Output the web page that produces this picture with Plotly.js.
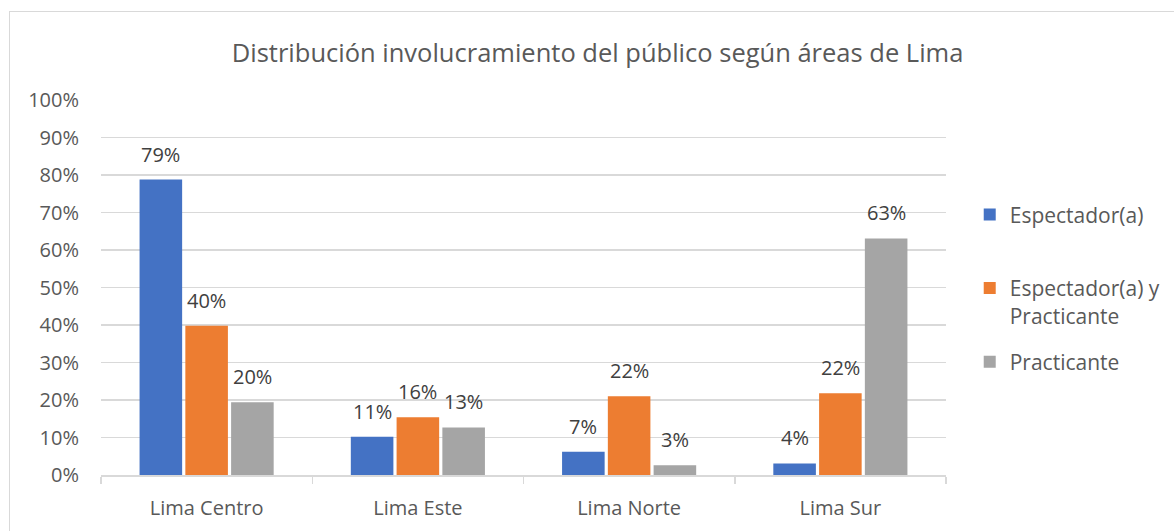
<!DOCTYPE html>
<html>
<head>
<meta charset="utf-8">
<script src="https://cdn.plot.ly/plotly-3.0.1.min.js"></script>
<style>
  html, body { margin: 0; padding: 0; background: #fff; }
  #wrap { position: relative; width: 1174px; height: 531px; overflow: hidden; }
  #chart { position: absolute; left: 0; top: 0; width: 1174px; height: 531px; }
  #frame { position: absolute; left: 9px; top: 11px; width: 1180px; height: 540px;
           border: 1.5px solid #d9d9d9; box-sizing: border-box; pointer-events: none; }
</style>
</head>
<body>
<div id="wrap"><div id="chart"></div><div id="frame"></div></div>
<script>
// ---- data ----
const categories = ["Lima Centro", "Lima Este", "Lima Norte", "Lima Sur"];
const seriesNames = ["Espectador(a)", "Espectador(a) y<br>Practicante", "Practicante"];
const espectador = [0.788, 0.102, 0.062, 0.031];
const espectadorPracticante = [0.398, 0.154, 0.210, 0.218];
const practicante = [0.194, 0.127, 0.026, 0.631];
const labelsEspectador = ["79%", "11%", "7%", "4%"];
const labelsEspectadorPracticante = ["40%", "16%", "22%", "22%"];
const labelsPracticante = ["20%", "13%", "3%", "63%"];
const yTickVals = [0, 0.1, 0.2, 0.3, 0.4, 0.5, 0.6, 0.7, 0.8, 0.9, 1.0];

// ---- style ----
const colors = ["#4472C4", "#ED7D31", "#A5A5A5"];
const textColor = "#595959";
const fontFam = "'Open Sans', Lato, sans-serif";
const W = 1174, H = 531;
const margin = {l: 101, r: 228, t: 100, b: 56, pad: 0};
const bargap = 0.35, bargroupgap = 0.07;

const values = [espectador, espectadorPracticante, practicante];
const labels = [labelsEspectador, labelsEspectadorPracticante, labelsPracticante];
const legendNames = [seriesNames[0] + "<br> ", seriesNames[1], seriesNames[2]];

const traces = values.map((v, i) => ({
  type: "bar",
  x: categories,
  y: v,
  name: legendNames[i],
  legendgroup: "g" + i,
  marker: {color: colors[i], line: {width: 0}},
  hoverinfo: "skip"
}));

// label annotations, positioned via the axis scales plus a per-series shift
const plotW = W - margin.l - margin.r;
const catPx = plotW / categories.length;
const slotPx = catPx * (1 - bargap) / 3;
const annotations = [];
values.forEach((v, s) => {
  v.forEach((val, c) => {
    annotations.push({
      x: categories[c], y: val, xref: "x", yref: "y",
      text: labels[s][c], showarrow: false,
      xanchor: "center", yanchor: "bottom",
      xshift: (s - 1) * slotPx, yshift: 10,
      font: {family: fontFam, size: 20, color: "#404040"}
    });
  });
});

const layout = {
  width: W, height: H,
  margin: margin,
  paper_bgcolor: "#fff", plot_bgcolor: "#fff",
  barmode: "group", bargap: bargap, bargroupgap: bargroupgap,
  font: {family: fontFam, color: textColor, size: 20},
  title: {
    text: "Distribución involucramiento del público según áreas de Lima",
    font: {family: fontFam, size: 25.5, color: textColor},
    x: 0.509, xanchor: "center", xref: "container", y: 0.9, yref: "container", yanchor: "middle",
    automargin: false
  },
  xaxis: {
    type: "category",
    showgrid: false, zeroline: false,
    showline: true, linecolor: "#d9d9d9", linewidth: 1.5,
    ticks: "outside", tickson: "boundaries", ticklen: 7, tickcolor: "#d9d9d9", tickwidth: 1.5,
    ticklabelstandoff: 14,
    tickfont: {family: fontFam, size: 20, color: textColor},
    fixedrange: true, automargin: false
  },
  yaxis: {
    range: [0, 1], tickvals: yTickVals, tickformat: ".0%",
    showgrid: true, gridcolor: "#d9d9d9", gridwidth: 1.5,
    zeroline: false, showline: false, ticks: "",
    ticklabelstandoff: 21,
    tickfont: {family: fontFam, size: 20, color: textColor},
    fixedrange: true, automargin: false
  },
  showlegend: true,
  legend: {
    xref: "container", yref: "container",
    x: 0.826, xanchor: "left", y: 0.634, yanchor: "top",
    traceorder: "grouped", tracegroupgap: 16, valign: "top",
    font: {family: fontFam, size: 21, color: textColor},
    itemclick: false, itemdoubleclick: false
  },
  annotations: annotations
};

Plotly.newPlot("chart", traces, layout, {displayModeBar: false, staticPlot: true});
</script>
</body>
</html>
